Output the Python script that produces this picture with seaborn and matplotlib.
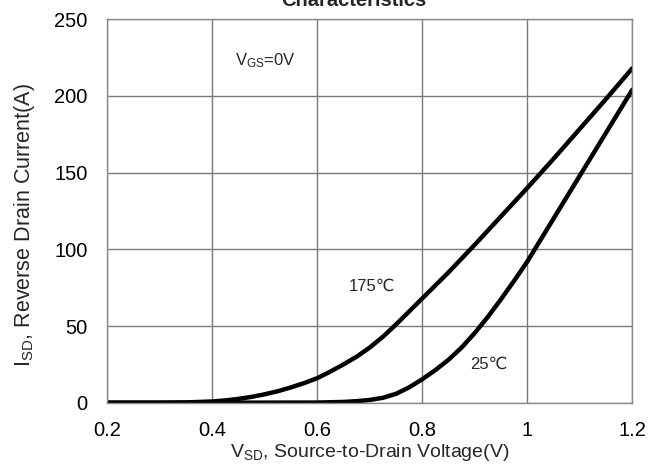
import matplotlib
matplotlib.use("Agg")
import matplotlib.pyplot as plt
import seaborn as sns
import pandas as pd

# Reverse diode characteristics, V_GS = 0 V
vsd_175 = [0.20, 0.30, 0.35, 0.40, 0.425, 0.45, 0.475, 0.50, 0.525, 0.55,
           0.575, 0.60, 0.625, 0.65, 0.675, 0.70, 0.725, 0.75, 0.775, 0.80,
           0.85, 0.90, 0.95, 1.00, 1.05, 1.10, 1.15, 1.20]
isd_175 = [0, 0, 0.2, 0.8, 1.5, 2.5, 3.8, 5.5, 7.5, 10,
           12.8, 16, 20.3, 25, 30, 36, 43, 51, 59.5, 68,
           85, 103, 121.5, 140, 159, 178.5, 198, 218]

vsd_25 = [0.20, 0.40, 0.60, 0.65, 0.675, 0.70, 0.725, 0.75, 0.775, 0.80,
          0.825, 0.85, 0.875, 0.90, 0.925, 0.95, 0.975, 1.00, 1.05, 1.10,
          1.15, 1.20]
isd_25 = [0, 0, 0.1, 0.5, 1, 1.8, 3.2, 5.8, 10, 15.3,
          21.3, 28, 36, 45.5, 56, 67.5, 79.5, 92, 120, 148,
          176, 204]

x_ticks = [0.2, 0.4, 0.6, 0.8, 1.0, 1.2]
x_tick_labels = ["0.2", "0.4", "0.6", "0.8", "1", "1.2"]
y_ticks = [0, 50, 100, 150, 200, 250]

sns.set_theme(style="white")
plt.rcParams["font.family"] = ["Liberation Sans", "DejaVu Sans"]
plt.rcParams["mathtext.fontset"] = "custom"
plt.rcParams["mathtext.rm"] = "Liberation Sans"
plt.rcParams["mathtext.it"] = "Liberation Sans:italic"

df = pd.concat([
    pd.DataFrame({"V": vsd_175, "I": isd_175, "T": "175"}),
    pd.DataFrame({"V": vsd_25, "I": isd_25, "T": "25"}),
])

fig = plt.figure(figsize=(6.62, 4.69), dpi=100)
ax = fig.add_axes([107.3 / 662, 1 - 402.7 / 469, 525 / 662, 383.5 / 469])

sns.lineplot(data=df, x="V", y="I", units="T", estimator=None,
             color="black", lw=3.2, ax=ax, legend=False)

ax.set_xlim(0.2, 1.2)
ax.set_ylim(0, 250)
ax.set_xticks(x_ticks)
ax.set_xticklabels(x_tick_labels)
ax.set_yticks(y_ticks)
ax.tick_params(length=0, labelsize=14.5, colors="black")
ax.tick_params(axis="x", pad=13)
ax.tick_params(axis="y", pad=14)
ax.grid(True, color="#7a7a7a", lw=1.0)
for s in ax.spines.values():
    s.set_color("#8a8a8a")
    s.set_linewidth(1.0)

ax.set_xlabel(r"V$_{\mathrm{SD}}$, Source-to-Drain Voltage(V)", fontsize=14)
ax.set_ylabel(r"I$_{\mathrm{SD}}$, Reverse Drain Current(A)", fontsize=15.5)
ax.xaxis.label.set_va("center")
ax.xaxis.set_label_coords(0.5, (402.7 - 452) / 383.5)
ax.yaxis.label.set_va("center")
ax.yaxis.set_label_coords((25 - 107.3) / 525, (402.7 - 225) / 383.5)

ax.text(0.50, 223, r"V$_{\mathrm{GS}}$=0V", fontsize=12, ha="center", va="center")
ax.text(0.705, 75.6, "175℃", fontsize=12, ha="center", va="center")
ax.text(0.926, 25.2, "25℃", fontsize=12, ha="center", va="center")

fig.text(354 / 662, 1 - 6 / 469, "Characteristics", fontsize=14.5,
         fontweight="bold", ha="center", va="baseline")

fig.savefig("out.png", dpi=100)
